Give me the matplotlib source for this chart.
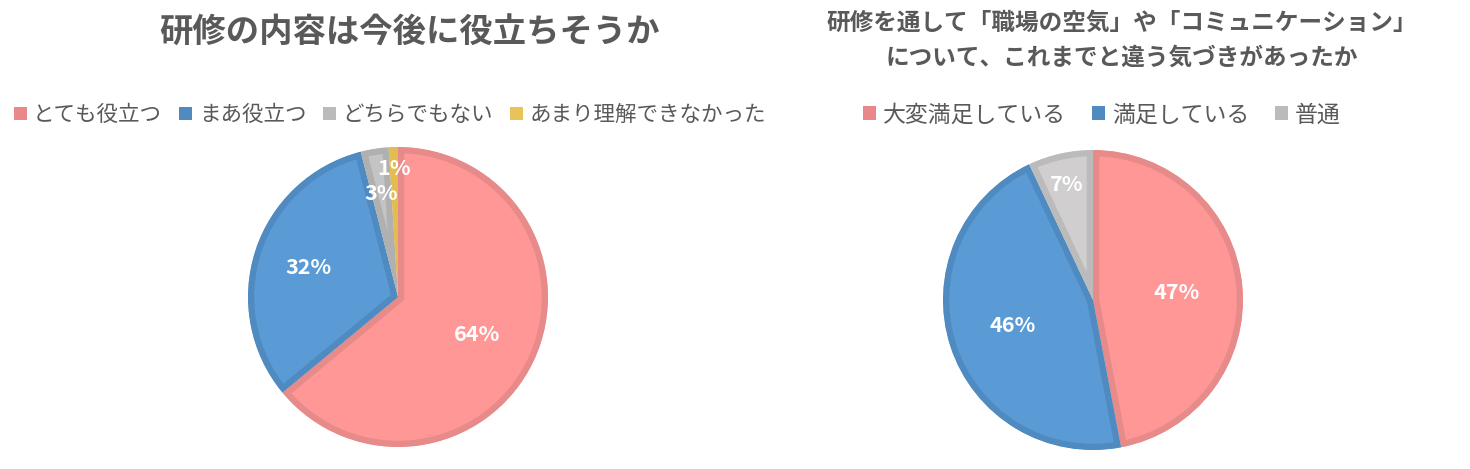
import matplotlib
matplotlib.use("Agg")
import matplotlib.pyplot as plt
from matplotlib.patches import Patch
import numpy as np

plt.rcParams['font.family'] = ['Noto Sans CJK JP', 'DejaVu Sans']

# left chart data
left_title = "研修の内容は今後に役立ちそうか"
left_labels = ["とても役立つ", "まあ役立つ", "どちらでもない", "あまり理解できなかった"]
left_values = [64, 32, 3, 1]

# right chart data
right_title = "研修を通して「職場の空気」や「コミュニケーション」\nについて、これまでと違う気づきがあったか"
right_labels = ["大変満足している", "満足している", "普通"]
right_values = [47, 46, 7]

left_fill = ["#FF9796", "#5B9BD5", "#C4C4C4", "#E8C35A"]
left_edge = ["#E68A8A", "#4F8BC1", "#B0B0B0", "#E3BC50"]
left_legend = ["#E8888A", "#4F8BC1", "#BBBBBB", "#E8C35A"]
left_pct_r = [0.58, 0.63, 0.70, 0.86]

right_fill = ["#FF9796", "#5B9BD5", "#D0CECE"]
right_edge = ["#E68A8A", "#4F8BC1", "#BBBBBB"]
right_legend = ["#E8888A", "#4F8BC1", "#BBBBBB"]
right_pct_r = [0.56, 0.56, 0.79]

W, H = 1470, 469
fig = plt.figure(figsize=(W / 100, H / 100), dpi=100)
text_color = "#595959"


def draw_pie(cx, cy, r, values, fills, edges, pct_r):
    ax = fig.add_axes([(cx - r) / W, (H - cy - r) / H, 2 * r / W, 2 * r / H])
    wedges, _ = ax.pie(values, colors=fills, startangle=90, counterclock=False,
                       radius=1.0, wedgeprops=dict(linewidth=9))
    # border drawn only on the inside of each slice
    for w, ec in zip(wedges, edges):
        w.set_edgecolor(ec)
        w.set_clip_on(True)
        w.set_clip_path(w)
    total = sum(values)
    for w, v, d in zip(wedges, values, pct_r):
        ang = np.deg2rad((w.theta1 + w.theta2) / 2)
        ax.text(d * np.cos(ang), d * np.sin(ang), f"{round(100 * v / total)}%",
                ha="center", va="center", color="white", fontsize=15.5,
                fontweight="bold")
    ax.set_xlim(-1, 1)
    ax.set_ylim(-1, 1)
    ax.axis("off")
    return ax


draw_pie(398, 297, 150, left_values, left_fill, left_edge, left_pct_r)
draw_pie(1093, 300, 150, right_values, right_fill, right_edge, right_pct_r)

fig.text(410 / W, 1 - 33 / H, left_title, ha="center", va="center",
         fontsize=24, fontweight="bold", color=text_color)
fig.text(1122 / W, 1 - 40 / H, right_title, ha="center", va="center",
         fontsize=17, fontweight="bold", color=text_color, linespacing=1.55)

h1 = [Patch(facecolor=c, edgecolor="none") for c in left_legend]
fig.legend(h1, left_labels, loc="center", bbox_to_anchor=(390 / W, 1 - 115 / H),
           ncol=4, frameon=False, fontsize=15.5, handlelength=0.6, handleheight=0.6,
           handletextpad=0.3, columnspacing=0.8, labelcolor=text_color)

h2 = [Patch(facecolor=c, edgecolor="none") for c in right_legend]
fig.legend(h2, right_labels, loc="center", bbox_to_anchor=(1102 / W, 1 - 115 / H),
           ncol=3, frameon=False, fontsize=16.5, handlelength=0.55, handleheight=0.55,
           handletextpad=0.3, columnspacing=1.15, labelcolor=text_color)

fig.savefig("out.png", dpi=100, facecolor="white")
